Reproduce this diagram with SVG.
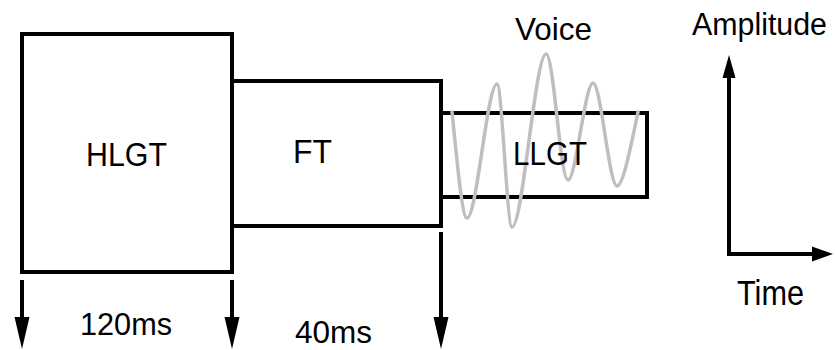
<svg xmlns="http://www.w3.org/2000/svg" width="835" height="350" viewBox="0 0 835 350">
<style>
.box{fill:none;stroke:#000;stroke-width:4}
.ln{fill:none;stroke:#000;stroke-width:4}
.ah{fill:#000;stroke:none}
.t{font-family:"Liberation Sans",Arial,sans-serif;fill:#000}
.wave{fill:none;stroke:#bfbfbf;stroke-width:3.5;stroke-linejoin:round;stroke-linecap:round}
</style>
<rect width="835" height="350" fill="#fff"/>
<g id="HLGT">
<rect class="box" x="22" y="34" width="210" height="238"/>
<text class="t" x="86" y="166" font-size="33" textLength="81" lengthAdjust="spacingAndGlyphs">HLGT</text>
</g>
<g id="FT">
<path class="box" d="M232,81 H441 V226 H232"/>
<text class="t" x="293" y="163" font-size="33" textLength="39" lengthAdjust="spacingAndGlyphs">FT</text>
</g>
<g id="LLGT">
<rect class="box" x="441" y="113" width="206" height="84"/>
</g>
<g id="voice">
<path class="wave" d="M452,112 C457,160 462,218 467,218 C477,218 487,84 497,84 C502,84 507,227 512,227 C523,227 535,54 546,54 C554,54 560,180 568,180 C576,180 585,83 593,83 C601,83 609,186 617,186 C624,186 634,130 638,112"/>
<text class="t" x="515" y="40" font-size="32" textLength="77" lengthAdjust="spacingAndGlyphs">Voice</text>
</g>
<g id="LLGT-label">
<text class="t" x="513" y="165" font-size="34" textLength="74" lengthAdjust="spacingAndGlyphs">LLGT</text>
</g>
<g id="axes">
<text class="t" x="692" y="35" font-size="31" textLength="135" lengthAdjust="spacingAndGlyphs">Amplitude</text>
<text class="t" x="737" y="305" font-size="35" textLength="67" lengthAdjust="spacingAndGlyphs">Time</text>
</g>
<g id="connectors">
<path class="ln" d="M729,76 V254 H814"/>
<polygon class="ah" points="729,55 735.5,78 722.5,78"/>
<polygon class="ah" points="833,254 812,246.5 812,261.5"/>
<path class="ln" d="M22,280 V320"/>
<polygon class="ah" points="22,349 14.5,317 29.5,317"/>
<path class="ln" d="M232,280 V320"/>
<polygon class="ah" points="232,349 224.5,317 239.5,317"/>
<path class="ln" d="M441,232 V320"/>
<polygon class="ah" points="441,349 433.5,317 448.5,317"/>
<text class="t" x="80" y="335" font-size="32" textLength="92" lengthAdjust="spacingAndGlyphs">120ms</text>
<text class="t" x="295" y="343" font-size="32" textLength="77" lengthAdjust="spacingAndGlyphs">40ms</text>
</g>
</svg>
